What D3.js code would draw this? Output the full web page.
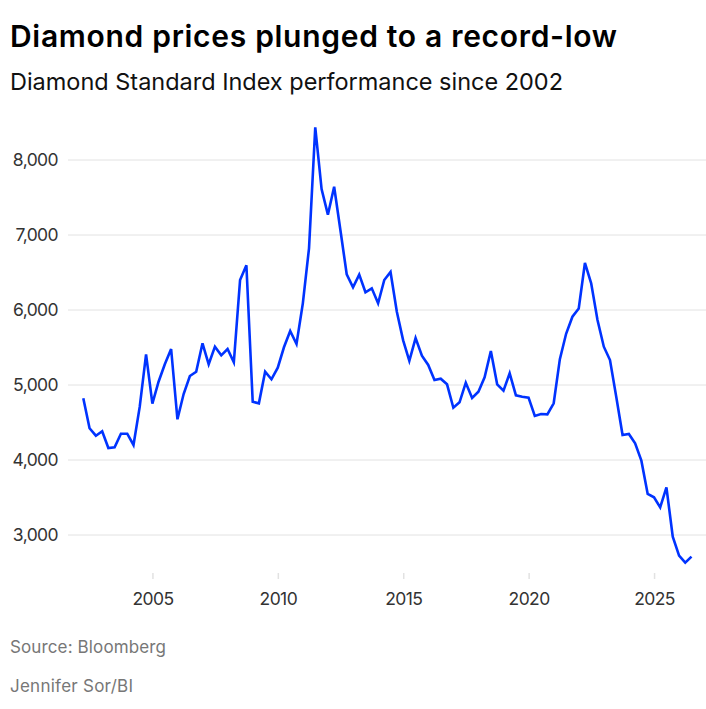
<!DOCTYPE html>
<html>
<head>
<meta charset="utf-8">
<script src="https://cdn.jsdelivr.net/npm/d3@7"></script>
<style>
  html, body { margin: 0; padding: 0; background: #fff; }
  svg { display: block; }
</style>
</head>
<body>
<div id="chart"></div>
<script>
const title = "Diamond prices plunged to a record-low";
const subtitle = "Diamond Standard Index performance since 2002";
const source = "Source: Bloomberg";
const credit = "Jennifer Sor/BI";

// Quarterly observations, 2002 Q1 through 2026 Q2
const startQuarter = [2002, 1];
const values = [
  4823, 4423, 4324, 4383, 4160, 4169, 4351, 4351, 4200, 4711,
  5409, 4751, 5044, 5276, 5480, 4543, 4880, 5120, 5177, 5556,
  5276, 5511, 5396, 5480, 5303, 6400, 6596, 4777, 4756, 5177,
  5076, 5231, 5503, 5720, 5547, 6089, 6823, 8436, 7613, 7271,
  7644, 7067, 6476, 6303, 6471, 6236, 6289, 6089, 6400, 6507,
  5977, 5595, 5322, 5625, 5391, 5267, 5067, 5084, 5009, 4697,
  4769, 5031, 4827, 4911, 5102, 5453, 5009, 4924, 5156, 4862,
  4844, 4831, 4587, 4613, 4609, 4756, 5345, 5683, 5911, 6020,
  6627, 6356, 5867, 5511, 5333, 4844, 4333, 4347, 4222, 3991,
  3547, 3503, 3369, 3636, 2977, 2724, 2631, 2711
];
const yTicks = [3000, 4000, 5000, 6000, 7000, 8000];
const xTickYears = [2005, 2010, 2015, 2020, 2025];

const dates = values.map((v, i) => {
  const q = startQuarter[1] - 1 + i;
  const y = startQuarter[0] + Math.floor(q / 4);
  const m = (q % 4) * 3 + 3;
  return new Date(y, m, 0);
});
const data = values.map((v, i) => ({ date: dates[i], value: v }));

const W = 706, H = 709;
const svg = d3.select("#chart").append("svg").attr("width", W).attr("height", H);

const x = d3.scaleTime()
  .domain([dates[0], dates[dates.length - 1]])
  .range([83.3, 691.5]);
const y = d3.scaleLinear()
  .domain([3000, 8000])
  .range([535, 160]);

const font = "Inter, 'Liberation Sans', sans-serif";

// fit text to a target width by adjusting letter spacing
function fit(sel, width) {
  const node = sel.node();
  const len = node.getComputedTextLength();
  const n = sel.text().length;
  if (n > 1) sel.attr("letter-spacing", (width - len) / (n - 1));
  return sel;
}

// Title & subtitle
fit(svg.append("text").attr("x", 10).attr("y", 47)
  .attr("font-family", font).attr("font-weight", 600)
  .attr("font-size", 30).attr("fill", "#000")
  .text(title), 607);
fit(svg.append("text").attr("x", 10).attr("y", 90)
  .attr("font-family", font).attr("font-weight", 400)
  .attr("font-size", 23.5).attr("fill", "#111")
  .text(subtitle), 553);

// Gridlines + y labels
const yAxis = d3.axisLeft(y).tickValues(yTicks).tickSize(0).tickPadding(10)
  .tickFormat(d3.format(","));
const gy = svg.append("g").attr("transform", "translate(68,0)").call(yAxis);
gy.select(".domain").remove();
gy.selectAll("text").attr("font-family", font).attr("font-size", 17.5)
  .attr("fill", "#333").attr("letter-spacing", -0.6);
svg.append("g").selectAll("line").data(yTicks).join("line")
  .attr("x1", 68).attr("x2", W)
  .attr("y1", d => y(d)).attr("y2", d => y(d))
  .attr("stroke", "#e2e2e2").attr("stroke-width", 1);

// X axis
const xAxis = d3.axisBottom(x)
  .tickValues(xTickYears.map(yr => new Date(yr, 0, 1)))
  .tickFormat(d3.timeFormat("%Y")).tickSize(6).tickPadding(14);
const gx = svg.append("g").attr("transform", "translate(0,573)").call(xAxis);
gx.select(".domain").remove();
gx.selectAll("line").attr("stroke", "#e2e2e2").attr("stroke-width", 1.5);
gx.selectAll("text").attr("font-family", font).attr("font-size", 17.5)
  .attr("fill", "#333").attr("letter-spacing", -0.6);

// Line
const line = d3.line().x(d => x(d.date)).y(d => y(d.value));
svg.append("path").datum(data)
  .attr("d", line)
  .attr("fill", "none")
  .attr("stroke", "#0033ff")
  .attr("stroke-width", 2.6)
  .attr("stroke-linejoin", "miter");

// Footer
fit(svg.append("text").attr("x", 10).attr("y", 653)
  .attr("font-family", font).attr("font-size", 17)
  .attr("fill", "#777").text(source), 156);
fit(svg.append("text").attr("x", 10).attr("y", 692)
  .attr("font-family", font).attr("font-size", 17)
  .attr("fill", "#777").text(credit), 123);
</script>
</body>
</html>
